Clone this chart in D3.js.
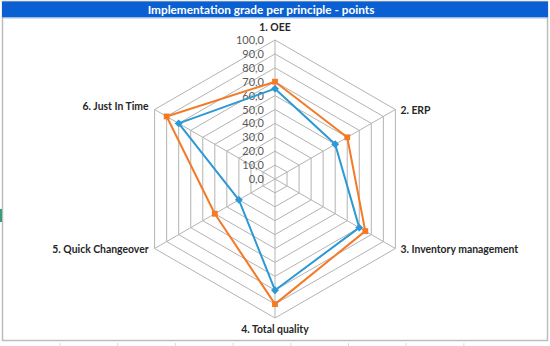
<!DOCTYPE html>
<html><head><meta charset="utf-8">
<script src="https://cdn.jsdelivr.net/npm/d3@7/dist/d3.min.js"></script>
<style>body{margin:0;background:#fff}svg{display:block}</style>
</head><body>
<svg id="c" width="550" height="346"></svg>
<script>
const categories = ["1. OEE","2. ERP","3. Inventory management","4. Total quality","5. Quick Changeover","6. Just In Time"];
const seriesBlue = [65, 50, 70, 80, 30, 80];
const seriesOrange = [70, 60, 75, 90, 50, 90];
const tickValues = [0,10,20,30,40,50,60,70,80,90,100];
const tickLabels = ["0,0","10,0","20,0","30,0","40,0","50,0","60,0","70,0","80,0","90,0","100,0"];

const svg = d3.select("#c");
const cx = 275, cy = 179, R = 139;
const font = "Lato, 'Open Sans', sans-serif";

// spreadsheet cell lines below chart
const cellX = d3.range(8).map(i => 60 + i * 57.7);
svg.append("g").selectAll("line").data(cellX).join("line")
  .attr("x1", d => d).attr("x2", d => d).attr("y1", 343).attr("y2", 346)
  .attr("stroke", "#d9d9d9").attr("stroke-width", 1);

// chart border
svg.append("rect").attr("x", 2.5).attr("y", 1.5).attr("width", 545).attr("height", 339)
  .attr("fill", "#fff").attr("stroke", "#bdbdbd").attr("stroke-width", 1.5);
// teal mark at left
svg.append("line").attr("x1", 1).attr("x2", 1).attr("y1", 209).attr("y2", 222)
  .attr("stroke", "#3a9d7a").attr("stroke-width", 2);

// title bar
svg.append("rect").attr("x", 2).attr("y", 1.5).attr("width", 546).attr("height", 16)
  .attr("fill", "#0a60d2");
svg.append("line").attr("x1", 2).attr("x2", 548).attr("y1", 18).attr("y2", 18)
  .attr("stroke", "#a9c3e4").attr("stroke-width", 1);
svg.append("text").attr("x", 261).attr("y", 14).attr("text-anchor", "middle")
  .attr("font-family", font).attr("font-weight", "bold").attr("font-size", 11.8)
  .attr("fill", "#fff").text("Implementation grade per principle - points");

const n = categories.length;
const r = d3.scaleLinear().domain([0, 100]).range([0, R]);
const ang = d3.scaleLinear().domain([0, n]).range([0, 2 * Math.PI]);
const pt = (i, v) => [cx + r(v) * Math.sin(ang(i)), cy - r(v) * Math.cos(ang(i))];

const grid = svg.append("g");
tickValues.filter(v => v > 0).forEach(v => {
  grid.append("path")
    .attr("d", d3.line()(d3.range(n).map(i => pt(i, v))) + "Z")
    .attr("fill", "none").attr("stroke", "#b3b3b3").attr("stroke-width", 1);
});
grid.selectAll("line.spoke").data(d3.range(n)).join("line")
  .attr("x1", cx).attr("y1", cy)
  .attr("x2", i => pt(i, 100)[0]).attr("y2", i => pt(i, 100)[1])
  .attr("stroke", "#b3b3b3").attr("stroke-width", 1);

// tick labels
svg.append("g").selectAll("text").data(tickValues).join("text")
  .attr("x", cx - 11).attr("y", v => cy - r(v) + 4)
  .attr("text-anchor", "end").attr("font-family", font).attr("font-size", 11)
  .attr("fill", "#595959").text((v, i) => tickLabels[i]);

// category labels
const labelPos = [
  {dx: 0, dy: -9, anchor: "middle"},
  {dx: 5, dy: 4, anchor: "start"},
  {dx: 5, dy: 4, anchor: "start"},
  {dx: 0, dy: 15, anchor: "middle"},
  {dx: -6, dy: 4, anchor: "end"},
  {dx: -6, dy: 0, anchor: "end"}
];
svg.append("g").selectAll("text").data(categories).join("text")
  .attr("x", (d, i) => pt(i, 100)[0] + labelPos[i].dx)
  .attr("y", (d, i) => pt(i, 100)[1] + labelPos[i].dy)
  .attr("text-anchor", (d, i) => labelPos[i].anchor)
  .attr("font-family", font).attr("font-weight", "bold").attr("font-size", 10.4)
  .attr("fill", "#262626").text(d => d);

function drawSeries(vals, color, marker) {
  const pts = vals.map((v, i) => pt(i, v));
  svg.append("path").attr("d", d3.line()(pts) + "Z")
    .attr("fill", "none").attr("stroke", color).attr("stroke-width", 2)
    .attr("stroke-linejoin", "round");
  svg.append("g").selectAll("path").data(pts).join("path")
    .attr("transform", d => `translate(${d[0]},${d[1]})`)
    .attr("d", d3.symbol().type(marker).size(marker === d3.symbolDiamond2 ? 40 : 34))
    .attr("fill", color);
}
drawSeries(seriesBlue, "#2d98d4", d3.symbolDiamond2);
drawSeries(seriesOrange, "#f47a26", d3.symbolSquare);
</script>
</body></html>
